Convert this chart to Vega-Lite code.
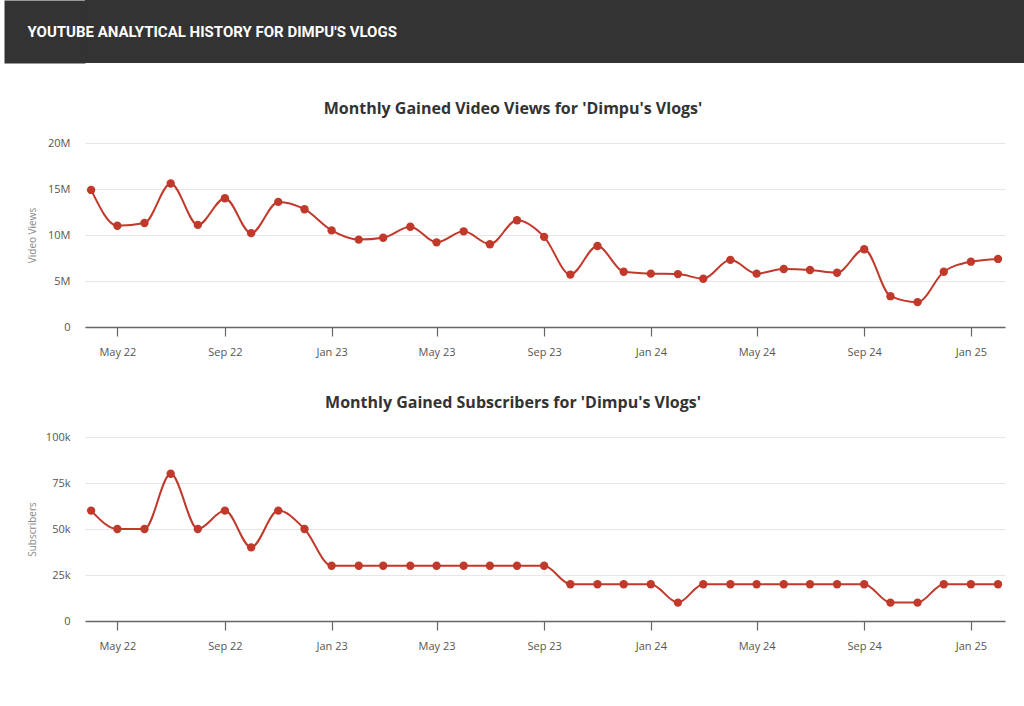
{
  "$schema": "https://vega.github.io/schema/vega-lite/v6.json",
  "background": "#ffffff",
  "padding": {"left": 4, "top": 0, "right": 0, "bottom": 48},
  "spacing": 38,
  "config": {
    "view": {"stroke": null},
    "font": "Open Sans",
    "title": {"fontSize": 16, "fontWeight": "bold", "color": "#333333", "anchor": "middle", "frame": "group", "offset": 20, "dx": -32},
    "axisX": {
      "grid": false, "domainColor": "#666666", "domainWidth": 1.5, "tickColor": "#666666", "tickSize": 9, "tickWidth": 1.2,
      "labelFontSize": 11, "labelColor": "#555555", "labelPadding": 10, "format": "%b %y",
      "tickCount": {"interval": "month", "step": 4}, "labelFont": "Open Sans"
    },
    "axisY": {
      "domain": false, "ticks": false, "gridColor": "#e6e6e6", "gridWidth": 1, "labelFontSize": 11, "labelColor": "#555555",
      "labelPadding": 15, "titleFontSize": 10, "titleFontWeight": "normal", "titleColor": "#888888", "titlePadding": 10,
      "titleLineHeight": 23,
      "labelExpr": "datum.value == 0 ? '0' : format(datum.value, '~s')", "minExtent": 38, "maxExtent": 38
    }
  },
  "datasets": {
    "yt": [
      {"month": "2022-04-01", "views": 14900000, "subs": 60000},
      {"month": "2022-05-01", "views": 11000000, "subs": 50000},
      {"month": "2022-06-01", "views": 11300000, "subs": 50000},
      {"month": "2022-07-01", "views": 15600000, "subs": 80000},
      {"month": "2022-08-01", "views": 11100000, "subs": 50000},
      {"month": "2022-09-01", "views": 14000000, "subs": 60000},
      {"month": "2022-10-01", "views": 10200000, "subs": 40000},
      {"month": "2022-11-01", "views": 13600000, "subs": 60000},
      {"month": "2022-12-01", "views": 12800000, "subs": 50000},
      {"month": "2023-01-01", "views": 10500000, "subs": 30000},
      {"month": "2023-02-01", "views": 9500000, "subs": 30000},
      {"month": "2023-03-01", "views": 9700000, "subs": 30000},
      {"month": "2023-04-01", "views": 10900000, "subs": 30000},
      {"month": "2023-05-01", "views": 9200000, "subs": 30000},
      {"month": "2023-06-01", "views": 10400000, "subs": 30000},
      {"month": "2023-07-01", "views": 9000000, "subs": 30000},
      {"month": "2023-08-01", "views": 11600000, "subs": 30000},
      {"month": "2023-09-01", "views": 9800000, "subs": 30000},
      {"month": "2023-10-01", "views": 5700000, "subs": 20000},
      {"month": "2023-11-01", "views": 8800000, "subs": 20000},
      {"month": "2023-12-01", "views": 6000000, "subs": 20000},
      {"month": "2024-01-01", "views": 5800000, "subs": 20000},
      {"month": "2024-02-01", "views": 5750000, "subs": 10000},
      {"month": "2024-03-01", "views": 5250000, "subs": 20000},
      {"month": "2024-04-01", "views": 7300000, "subs": 20000},
      {"month": "2024-05-01", "views": 5800000, "subs": 20000},
      {"month": "2024-06-01", "views": 6300000, "subs": 20000},
      {"month": "2024-07-01", "views": 6200000, "subs": 20000},
      {"month": "2024-08-01", "views": 5900000, "subs": 20000},
      {"month": "2024-09-01", "views": 8450000, "subs": 20000},
      {"month": "2024-10-01", "views": 3350000, "subs": 10000},
      {"month": "2024-11-01", "views": 2700000, "subs": 10000},
      {"month": "2024-12-01", "views": 6000000, "subs": 20000},
      {"month": "2025-01-01", "views": 7100000, "subs": 20000},
      {"month": "2025-02-01", "views": 7400000, "subs": 20000}
    ]
  },
  "vconcat": [
    {
      "width": 939,
      "height": 63,
      "view": {"fill": "#333333", "stroke": null},
      "data": {"values": [{"heading": "YOUTUBE ANALYTICAL HISTORY FOR DIMPU'S VLOGS"}]},
      "mark": {"type": "text", "align": "left", "baseline": "middle", "dx": -527, "font": "Roboto", "fontSize": 15, "fontWeight": "bold", "color": "#ffffff"},
      "encoding": {
        "text": {"field": "heading", "type": "nominal"},
        "y": {"field": "heading", "type": "nominal", "axis": {"title": null, "labels": false, "ticks": false, "grid": false, "domain": true, "domainColor": "#333333", "domainWidth": 81, "offset": 40.5, "minExtent": 0, "maxExtent": 0}}
      }
    },
    {
      "width": 920,
      "height": 184,
      "title": {"text": "Monthly Gained Video Views for 'Dimpu's Vlogs'"},
      "data": {"name": "yt"},
      "encoding": {
        "x": {"field": "month", "type": "temporal", "title": null, "scale": {"domain": [{"year": 2022, "month": 3, "date": 25}, {"year": 2025, "month": 2, "date": 9}]}},
        "y": {"field": "views", "type": "quantitative", "scale": {"domain": [0, 20000000]}, "axis": {"title": ["", "Video Views"], "values": [0, 5000000, 10000000, 15000000, 20000000]}}
      },
      "layer": [
        {"mark": {"type": "line", "interpolate": "monotone", "color": "#c0392b", "strokeWidth": 2}},
        {"mark": {"type": "point", "filled": true, "opacity": 1, "size": 70, "color": "#c0392b"}}
      ]
    },
    {
      "width": 920,
      "height": 184,
      "title": {"text": "Monthly Gained Subscribers for 'Dimpu's Vlogs'"},
      "data": {"name": "yt"},
      "encoding": {
        "x": {"field": "month", "type": "temporal", "title": null, "scale": {"domain": [{"year": 2022, "month": 3, "date": 25}, {"year": 2025, "month": 2, "date": 9}]}},
        "y": {"field": "subs", "type": "quantitative", "scale": {"domain": [0, 100000]}, "axis": {"title": ["", "Subscribers"], "values": [0, 25000, 50000, 75000, 100000]}}
      },
      "layer": [
        {"mark": {"type": "line", "interpolate": "monotone", "color": "#c0392b", "strokeWidth": 2}},
        {"mark": {"type": "point", "filled": true, "opacity": 1, "size": 70, "color": "#c0392b"}}
      ]
    }
  ]
}
